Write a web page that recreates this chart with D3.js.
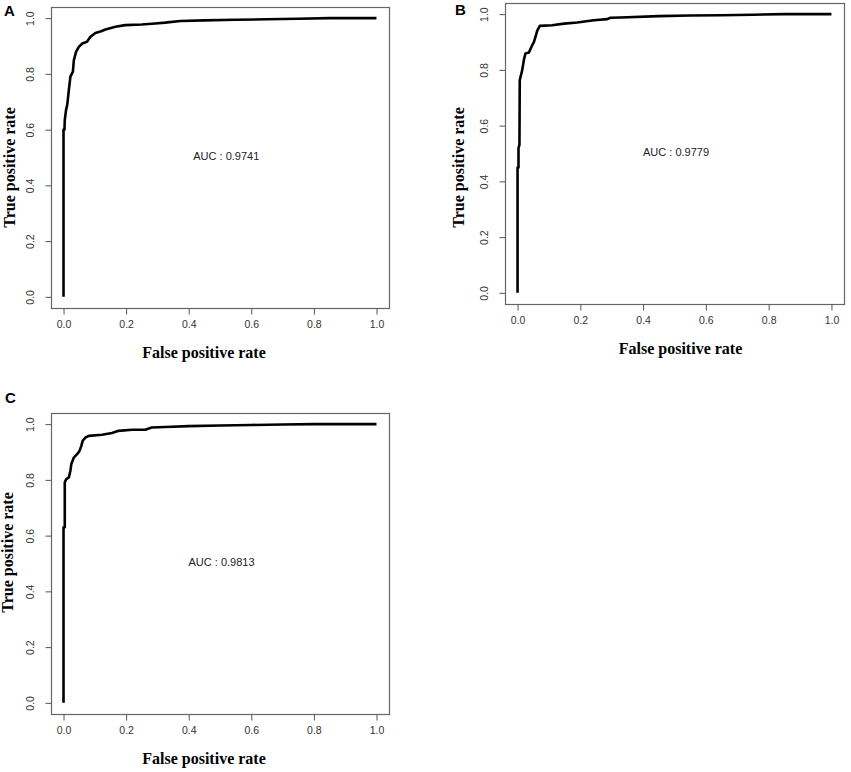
<!DOCTYPE html>
<html>
<head>
<meta charset="utf-8">
<script src="https://cdn.jsdelivr.net/npm/d3@7"></script>
<style>
  body { margin: 0; background: #fff; }
  svg { display: block; }
  .tick text { font-family: "Liberation Sans", Arial, sans-serif; font-size: 10.5px; fill: #333; }
  .tick line { stroke: #555; }
  .title { font-family: "Liberation Serif", "Times New Roman", serif; font-weight: bold; font-size: 16px; }
  .letter { font-family: "Liberation Sans", Arial, sans-serif; font-weight: bold; font-size: 15px; }
  .auc { font-family: "Liberation Sans", Arial, sans-serif; font-size: 11px; fill: #222; }
</style>
</head>
<body>
<svg width="851" height="772"></svg>
<script>
// ROC curve points
var fprA = [0, 0, 0.003, 0.004, 0.008, 0.012, 0.017, 0.022, 0.03, 0.033, 0.04, 0.049, 0.06, 0.075, 0.086, 0.102, 0.12, 0.134, 0.166, 0.197, 0.25, 0.293, 0.325, 0.373, 0.45, 0.55, 0.65, 0.75, 0.85, 1.0];
var tprA = [0, 0.6, 0.6, 0.634, 0.67, 0.69, 0.742, 0.79, 0.808, 0.849, 0.879, 0.897, 0.909, 0.915, 0.933, 0.947, 0.953, 0.959, 0.969, 0.975, 0.977, 0.981, 0.984, 0.99, 0.992, 0.994, 0.996, 0.998, 1.0, 1.0];

var fprB = [0, 0, 0.003, 0.003, 0.006, 0.007, 0.015, 0.02, 0.025, 0.036, 0.044, 0.052, 0.057, 0.063, 0.071, 0.11, 0.148, 0.19, 0.243, 0.286, 0.296, 0.328, 0.45, 0.55, 0.65, 0.75, 0.85, 1.0];
var tprB = [0, 0.45, 0.45, 0.52, 0.53, 0.763, 0.8, 0.835, 0.859, 0.862, 0.882, 0.9, 0.918, 0.942, 0.958, 0.96, 0.966, 0.97, 0.978, 0.982, 0.987, 0.988, 0.993, 0.995, 0.996, 0.998, 1.0, 1.0];

var fprC = [0, 0, 0.004, 0.004, 0.009, 0.017, 0.022, 0.025, 0.033, 0.044, 0.051, 0.057, 0.061, 0.07, 0.081, 0.123, 0.155, 0.176, 0.219, 0.261, 0.282, 0.325, 0.4, 0.5, 0.6, 0.7, 0.8, 1.0];
var tprC = [0, 0.63, 0.63, 0.791, 0.803, 0.809, 0.833, 0.857, 0.88, 0.893, 0.904, 0.922, 0.94, 0.952, 0.958, 0.962, 0.968, 0.976, 0.98, 0.98, 0.988, 0.99, 0.993, 0.995, 0.997, 0.999, 1.0, 1.0];

var panelLetters = ["A", "B", "C"];
var aucLabels = ["AUC : 0.9741", "AUC : 0.9779", "AUC : 0.9813"];
var tickValues = [0, 0.2, 0.4, 0.6, 0.8, 1.0];
var xTitle = "False positive rate";
var yTitle = "True positive rate";

var svg = d3.select("svg");

// box corners per panel, letter spot, AUC anchor, title nudges (the panels were cropped unevenly)
var panels = [
  {box: [51, 7, 389, 308], letter: [4, 16], auc: 0.52, xt: -16, yt: [-36, 10], fpr: fprA, tpr: tprA},
  {box: [505, 3, 844, 304], letter: [455, 15], auc: 0.505, xt: 6, yt: [-41, 14], fpr: fprB, tpr: tprB},
  {box: [51, 413, 389, 714], letter: [5, 403], auc: 0.505, xt: -16, yt: [-38, -11], fpr: fprC, tpr: tprC}
];

panels.forEach(function(p, i) {
  var b = p.box;
  // R style: axis range extends 4% beyond [0, 1]
  var x = d3.scaleLinear().domain([-0.04, 1.04]).range([b[0], b[2]]);
  var y = d3.scaleLinear().domain([-0.04, 1.04]).range([b[3], b[1]]);

  var g = svg.append("g");

  g.append("rect")
    .attr("x", b[0] + 0.5).attr("y", b[1] + 0.5)
    .attr("width", b[2] - b[0]).attr("height", b[3] - b[1])
    .attr("fill", "none").attr("stroke", "#666").attr("stroke-width", 1.2);

  var xAxis = d3.axisBottom(x).tickValues(tickValues).tickSize(6).tickPadding(6)
    .tickFormat(d3.format(".1f"));
  var gx = g.append("g").attr("transform", "translate(0," + (b[3] + 0.5) + ")").call(xAxis);
  gx.select(".domain").remove();

  var yAxis = d3.axisLeft(y).tickValues(tickValues).tickSize(6).tickPadding(6)
    .tickFormat(d3.format(".1f"));
  var gy = g.append("g").attr("transform", "translate(" + (b[0] + 0.5) + ",0)").call(yAxis);
  gy.select(".domain").remove();
  gy.selectAll(".tick text")
    .attr("text-anchor", "middle")
    .attr("x", 0).attr("dy", 0)
    .attr("transform", "translate(-20,0) rotate(-90)")
    .attr("dominant-baseline", "middle");

  var line = d3.line().x(function(d) { return x(d[0]); }).y(function(d) { return y(d[1]); });
  g.append("path")
    .datum(d3.zip(p.fpr, p.tpr))
    .attr("d", line)
    .attr("fill", "none")
    .attr("stroke", "#000")
    .attr("stroke-width", 2.6)
    .attr("stroke-linejoin", "round");

  g.append("text").attr("class", "auc")
    .attr("x", x(p.auc)).attr("y", y(0.5))
    .attr("text-anchor", "middle").attr("dominant-baseline", "middle")
    .text(aucLabels[i]);

  g.append("text").attr("class", "title")
    .attr("x", (x(0) + x(1)) / 2 + p.xt).attr("y", b[3] + 50)
    .attr("text-anchor", "middle")
    .text(xTitle);

  g.append("text").attr("class", "title")
    .attr("transform", "translate(" + (b[0] + p.yt[0]) + "," + ((y(0) + y(1)) / 2 + p.yt[1]) + ") rotate(-90)")
    .attr("text-anchor", "middle")
    .text(yTitle);

  g.append("text").attr("class", "letter")
    .attr("x", p.letter[0]).attr("y", p.letter[1])
    .text(panelLetters[i]);
});
</script>
</body>
</html>
